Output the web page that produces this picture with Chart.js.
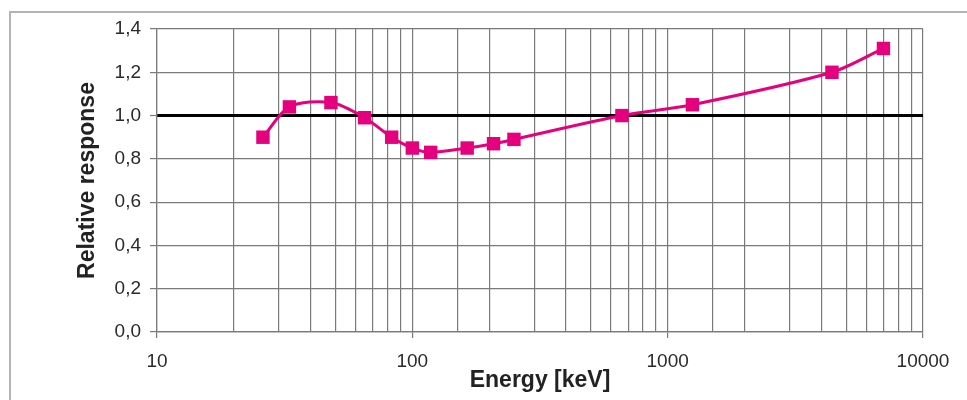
<!DOCTYPE html>
<html>
<head>
<meta charset="utf-8">
<script src="https://cdn.jsdelivr.net/npm/chart.js@4.4.1/dist/chart.umd.min.js"></script>
<style>
  html, body { margin: 0; padding: 0; background: #fff; }
  #wrap { position: relative; width: 967px; height: 400px; }
  #frame { position: absolute; left: 9px; top: 11px; right: 0; bottom: -5px;
           border-left: 2px solid #b4b4b4; border-top: 2px solid #b4b4b4; pointer-events: none; }
  canvas { display: block; }
</style>
</head>
<body>
<div id="wrap">
  <canvas id="c" width="967" height="400"></canvas>
  <div id="frame"></div>
</div>
<script>
const energies = [26, 33, 48, 65, 83, 100, 118, 164, 208, 250, 662, 1250, 4400, 7000];
const response = [0.90, 1.04, 1.06, 0.99, 0.90, 0.85, 0.83, 0.85, 0.87, 0.89, 1.00, 1.05, 1.20, 1.31];
const xMajorTicks = [10, 100, 1000, 10000];
const yTickLabels = ['0,0', '0,2', '0,4', '0,6', '0,8', '1,0', '1,2', '1,4'];
const referenceLevel = 1.0;

const points = energies.map((e, i) => ({ x: e, y: response[i] }));
const pink = '#e5007d';
const gridGray = '#7a7a7a';
const fontFam = 'Liberation Sans, Arial, sans-serif';

new Chart(document.getElementById('c'), {
  type: 'line',
  data: {
    datasets: [{
      data: points,
      borderColor: pink,
      backgroundColor: pink,
      borderWidth: 3,
      pointStyle: 'rect',
      pointRadius: 9.5,
      pointHoverRadius: 9.5,
      pointBorderWidth: 0,
      tension: 0.3,
      fill: false
    }]
  },
  options: {
    responsive: false,
    animation: false,
    layout: { padding: { left: 68, top: 29, right: 44, bottom: 6 } },
    plugins: { legend: { display: false }, tooltip: { enabled: false } },
    scales: {
      x: {
        type: 'logarithmic',
        min: 10,
        max: 10000,
        afterFit: s => { s.height = 62; },
        border: { color: gridGray, width: 1.2 },
        grid: {
          color: gridGray,
          lineWidth: 1.2,
          tickLength: 6,
          tickColor: ctx => xMajorTicks.includes(ctx.tick && ctx.tick.value) ? gridGray : 'rgba(0,0,0,0)'
        },
        ticks: {
          autoSkip: false,
          maxRotation: 0,
          padding: 12,
          color: '#2a2a2a',
          font: { family: fontFam, size: 19 },
          callback: v => xMajorTicks.includes(v) ? String(v) : ''
        },
        title: {
          display: true,
          text: 'Energy [keV]',
          color: '#222',
          padding: { top: 0, bottom: 0 },
          font: { family: fontFam, size: 23, weight: 'bold' }
        }
      },
      y: {
        min: 0,
        max: 1.4,
        afterFit: s => { s.width = 89; },
        border: { color: gridGray, width: 1.2 },
        grid: {
          color: ctx => (ctx.tick && Math.abs(ctx.tick.value - referenceLevel) < 1e-9) ? '#000' : gridGray,
          lineWidth: ctx => (ctx.tick && Math.abs(ctx.tick.value - referenceLevel) < 1e-9) ? 3 : 1.2,
          tickColor: gridGray,
          tickWidth: 1.2,
          tickLength: 7
        },
        ticks: {
          stepSize: 0.2,
          padding: 9,
          color: '#2a2a2a',
          font: { family: fontFam, size: 19 },
          callback: (v, i) => yTickLabels[i]
        },
        title: {
          display: true,
          text: 'Relative response',
          color: '#222',
          padding: { top: 6, bottom: 0 },
          font: { family: fontFam, size: 23, weight: 'bold' }
        }
      }
    }
  }
});
</script>
</body>
</html>
